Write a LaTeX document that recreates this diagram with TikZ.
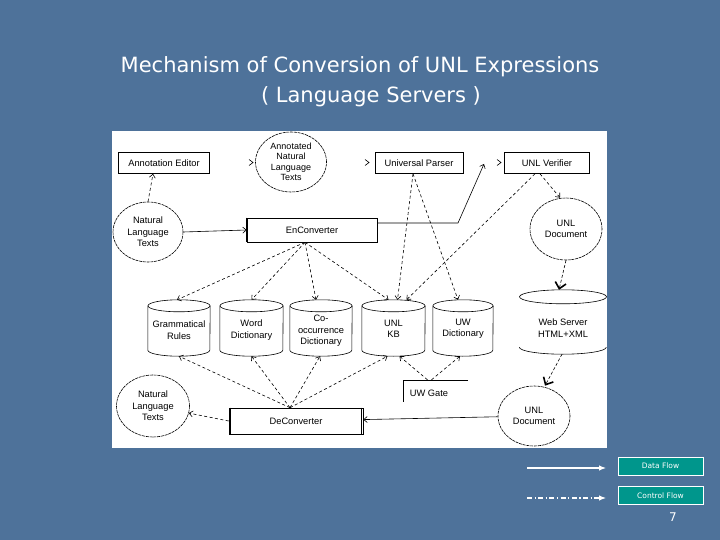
\documentclass[tikz,border=0pt]{standalone}
\usepackage{fontspec}
\setmainfont{Liberation Sans}
\newfontfamily\titlefont{DejaVu Sans}
\usetikzlibrary{arrows.meta,shapes.geometric}
\definecolor{slidebg}{RGB}{78,114,154}
\definecolor{legteal}{RGB}{0,150,140}
\newcommand\mydbcyl[2]{%
  \draw[dbline] ([yshift=-6pt]#1.north) ellipse [x radius=#2, y radius=6pt];
  \draw[dbline] ([yshift=-6pt]#1.north west) -- ([yshift=6pt]#1.south west)
     arc[start angle=180, end angle=360, x radius=#2, y radius=6pt]
     -- ([yshift=-6pt]#1.north east);
}
\begin{document}
\begin{tikzpicture}[x=1pt,y=-1pt,
  every node/.style={inner sep=0pt, align=center, font=\fontsize{9.3}{11.5}\selectfont},
  box/.style={draw, line width=0.6pt, rectangle},
  blob/.style={draw, ellipse, line width=0.6pt, dash pattern=on 3pt off 0.8pt},
  dbnode/.style={rectangle, minimum height=56pt},
  dbline/.style={line width=0.6pt},
  data/.style={line width=0.6pt, -{Straight Barb[length=3.5pt,width=6pt]}},
  ctrl/.style={data, dash pattern=on 3pt off 2.5pt},
  bigctrl/.style={line width=0.6pt, dash pattern=on 3pt off 2pt, -{Straight Barb[length=6pt,width=11pt,line width=1.6pt]}},
  legbox/.style={draw=white, line width=0.8pt, fill=legteal, text=white, minimum width=85pt, minimum height=18pt, font=\titlefont\fontsize{7.5}{9}\selectfont},
  legline/.style={draw=white, line width=1.1pt, -{Latex[length=7pt,width=5.5pt]}},
  chev/.style={line width=0.6pt},
  ttl/.style={text=white, font=\titlefont\fontsize{21}{25}\selectfont}
]
\useasboundingbox (0,0) rectangle (720,540);
\fill[slidebg] (0,0) rectangle (720,540);

% title
\node[ttl] (t1) at (360,67) {Mechanism of Conversion of UNL Expressions};
\node[ttl] (t2) at (371,97) {( Language Servers )};

% diagram panel
\fill[white] (112,131) rectangle (607,448);

% top row
\node[box, minimum width=91pt, minimum height=21pt] (ae) at (164,163) {Annotation Editor};
\node[blob, minimum width=71pt, minimum height=60pt, font=\fontsize{9}{10.5}\selectfont] (ant) at (291,162) {Annotated\\Natural\\Language\\Texts};
\node[box, minimum width=88pt, minimum height=21pt] (up) at (419,163) {Universal Parser};
\node[box, minimum width=85pt, minimum height=21pt] (uv) at (547,163) {UNL Verifier};

% chevrons
\draw[chev] (249,159.5) -- (253,162.5) -- (249,165.5);
\draw[chev] (365,159.5) -- (369,162.5) -- (365,165.5);
\draw[chev] (497,159.5) -- (501,162.5) -- (497,165.5);

% second row
\node[blob, minimum width=70pt, minimum height=60pt] (nl1) at (148,232) {Natural\\Language\\Texts};
\node[box, minimum width=130pt, minimum height=24pt] (enc) at (312,230) {EnConverter};
\draw[line width=1.3pt] (enc.north west) -- (enc.south west);
\node[blob, minimum width=72pt, minimum height=62pt] (und) at (566,229) {UNL\\Document};

% databases
\node[dbnode, minimum width=62pt] (gr) at (179,328) {};
\node[dbnode, minimum width=63pt] (wd) at (251.5,328) {};
\node[dbnode, minimum width=62pt] (cd) at (321,328) {};
\node[dbnode, minimum width=63pt] (kb) at (393.5,328) {};
\node[dbnode, minimum width=60pt] (uw) at (463,328) {};
\mydbcyl{gr}{31pt}
\mydbcyl{wd}{31.5pt}
\mydbcyl{cd}{31pt}
\mydbcyl{kb}{31.5pt}
\mydbcyl{uw}{30pt}
\node (grt) at (179,330) {Grammatical\\Rules};
\node (wdt) at (251.5,330) {Word\\Dictionary};
\node (cdt) at (321,331) {Co-\\occurrence\\Dictionary};
\node (kbt) at (393.5,329) {UNL\\KB};
\node (uwt) at (463,329) {UW\\Dictionary};

% web server
\node[rectangle, minimum width=87pt, minimum height=64pt] (ws) at (563,322) {};
\draw[dbline] ([yshift=-7pt]ws.north) ellipse [x radius=43.5pt, y radius=7pt];
\draw[dbline] ([yshift=7pt]ws.south west) arc[start angle=180, end angle=360, x radius=43.5pt, y radius=7pt];
\node (wst) at (563,328) {Web Server\\HTML+XML};

% bottom row
\node[blob, minimum width=73pt, minimum height=62pt] (nl2) at (153,406) {Natural\\Language\\Texts};
\node[box, minimum width=134pt, minimum height=26pt] (dec) at (296,421) {DeConverter};
\draw[line width=0.6pt] ([xshift=2pt]dec.north west) -- ([xshift=2pt]dec.south west);
\draw[line width=0.6pt] ([xshift=-2pt]dec.north east) -- ([xshift=-2pt]dec.south east);
\node[blob, minimum width=72pt, minimum height=60pt] (und2) at (534,416) {UNL\\Document};

% UW Gate
\node[rectangle, minimum width=65pt, minimum height=22pt] (gate) at (435.5,391) {};
\node (gatetxt) at (429,393) {UW Gate};
\draw[line width=0.6pt] (gate.north east) -- (gate.north west) -- (gate.south west);

% connectors: top part
\draw[ctrl] (nl1.north) -- ([xshift=-11pt]ae.south);
\draw[data] (nl1.east) -- (enc.west);
\coordinate (bend) at (458,223);
\coordinate (uvin) at (484,164);
\draw[data] ([yshift=7pt]enc.east) -- (bend) -- (uvin);

\coordinate (encs) at ([xshift=-7pt]enc.south);
\draw[ctrl] (encs) -- ([xshift=-2pt]gr.north);
\draw[ctrl] (encs) -- (wd.north);
\draw[ctrl] (encs) -- ([xshift=-5pt]cd.north);
\draw[ctrl] (encs) -- ([xshift=-5pt]kb.north);

\draw[ctrl] ([xshift=-6pt]up.south) -- ([xshift=4pt]kb.north);
\draw[ctrl] ([xshift=-6pt]up.south) -- ([xshift=-5pt]uw.north);
\draw[ctrl] ([xshift=-12pt]uv.south) -- ([xshift=13pt]kb.north);
\draw[ctrl] ([xshift=-7pt]uv.south) -- ([xshift=-6pt]und.north);

\draw[bigctrl] (und.south) -- ([xshift=-4pt]ws.north);
\draw[bigctrl] ([xshift=-1pt]ws.south) -- ([xshift=11pt]und2.north);

% connectors: bottom part
\draw[data] (und2) -- (dec);
\draw[ctrl] (dec.west) -- (nl2);
\coordinate (decn) at ([xshift=-6pt]dec.north);
\draw[ctrl] (decn) -- (gr.south);
\draw[ctrl] (decn) -- (wd.south);
\draw[ctrl] (decn) -- ([xshift=-1pt]cd.south);
\draw[ctrl] (decn) -- ([xshift=-6pt]kb.south);
\draw[ctrl] ([xshift=-8pt]gate.north) -- ([xshift=6pt]kb.south);
\draw[ctrl] ([xshift=-4pt]gate.north) -- ([xshift=-3pt]uw.south);

% legend
\node[legbox] (ldata) at (660.5,466) {Data Flow};
\node[legbox] (lctrl) at (660.5,495.5) {Control Flow};
\coordinate (lds) at (527,468);
\coordinate (lde) at (606,468);
\coordinate (lcs) at (527,498);
\coordinate (lce) at (606,498);
\draw[legline] (lds) -- (lde);
\draw[legline, dash pattern=on 5pt off 2.5pt on 1.2pt off 2.5pt] (lcs) -- (lce);
\node[text=white, font=\titlefont\fontsize{12}{12}\selectfont] (pg) at (673,517) {7};
\end{tikzpicture}
\end{document}
